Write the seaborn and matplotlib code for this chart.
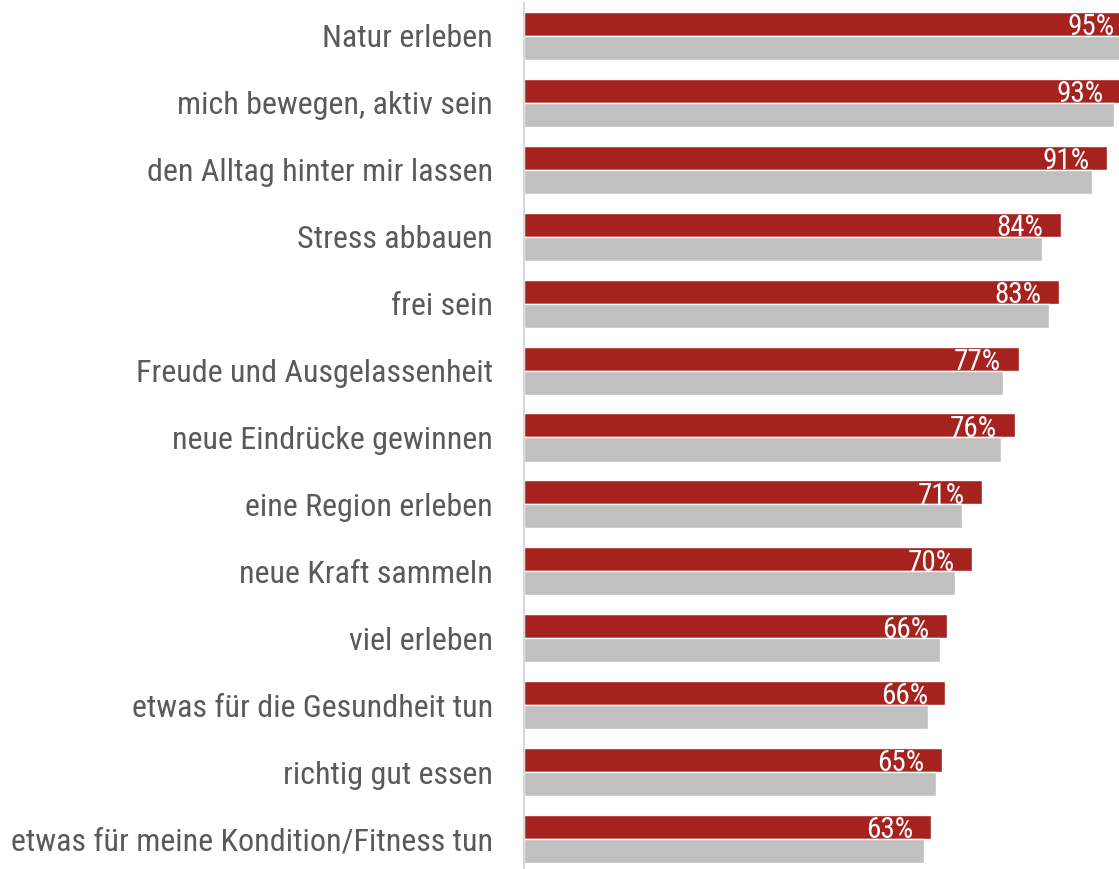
import pandas as pd
import matplotlib
matplotlib.use("Agg")
import matplotlib.pyplot as plt
from matplotlib import font_manager
import seaborn as sns

categories = [
    "Natur erleben",
    "mich bewegen, aktiv sein",
    "den Alltag hinter mir lassen",
    "Stress abbauen",
    "frei sein",
    "Freude und Ausgelassenheit",
    "neue Eindrücke gewinnen",
    "eine Region erleben",
    "neue Kraft sammeln",
    "viel erleben",
    "etwas für die Gesundheit tun",
    "richtig gut essen",
    "etwas für meine Kondition/Fitness tun",
]
red_values = [94.6, 92.9, 90.7, 83.6, 83.3, 77.0, 76.4, 71.3, 69.8, 65.9, 65.6, 65.1, 63.4]
gray_values = [94.0, 91.8, 88.4, 80.6, 81.8, 74.6, 74.3, 68.2, 67.1, 64.8, 62.9, 64.1, 62.3]
red_labels = ["95%", "93%", "91%", "84%", "83%", "77%", "76%", "71%", "70%", "66%", "66%", "65%", "63%"]

# pick a condensed face if one is there
names = set(font_manager.get_font_names())
fam = "DejaVu Sans"
for f in ["Roboto Condensed", "Liberation Sans Narrow", "Open Sans Condensed", "Roboto", "Liberation Sans"]:
    if f in names:
        fam = f
        break

sns.set_style("white")
plt.rcParams["font.family"] = [fam, "DejaVu Sans"]

df = pd.DataFrame({
    "category": categories * 2,
    "value": red_values + gray_values,
    "series": ["a"] * len(categories) + ["b"] * len(categories),
})

W, H = 1119, 869
fig = plt.figure(figsize=(W / 100, H / 100), dpi=100)
x0 = 523.5
top = 2.5
axh = 13 * 66.92
ax = fig.add_axes([x0 / W, (H - top - axh) / H, (W - x0) / W, axh / H])

sns.barplot(data=df, x="value", y="category", hue="series", orient="h",
            palette=["#A6221E", "#C0C0C0"], saturation=1, width=0.718,
            legend=False, ax=ax, errorbar=None)

ax.set_xlim(0, (W - x0) / 6.43)
ax.set_ylim(len(categories) - 0.5, -0.5)
ax.set_xlabel("")
ax.set_ylabel("")
ax.set_xticks([])
for s in ["top", "right", "bottom"]:
    ax.spines[s].set_visible(False)
ax.spines["left"].set_color("#D9D9D9")
ax.spines["left"].set_linewidth(1.5)
ax.tick_params(axis="y", length=0, pad=22, labelsize=23, labelcolor="#5A5A5A")

for i, (v, lab) in enumerate(zip(red_values, red_labels)):
    ax.annotate(lab, xy=(v, i), xytext=(-12.6, 0.5), textcoords="offset points",
                ha="right", va="baseline", color="white", fontsize=21,
                annotation_clip=False)

fig.savefig("out.png", dpi=100)
